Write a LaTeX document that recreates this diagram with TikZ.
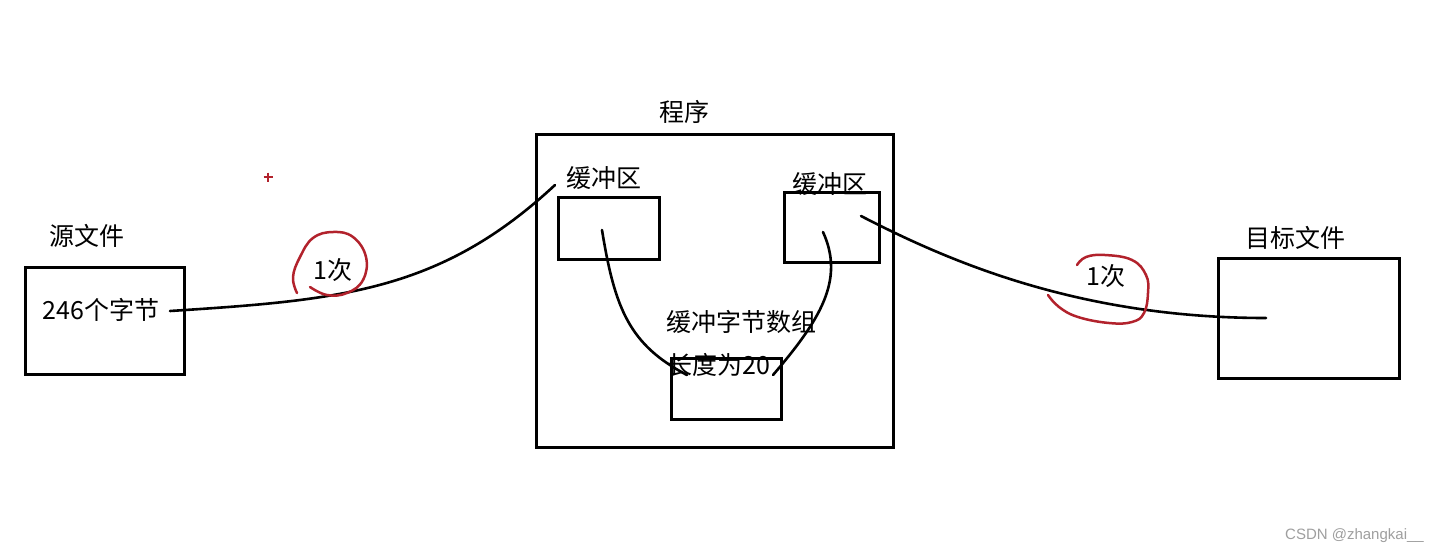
\documentclass[tikz,border=0pt]{standalone}
\usepackage{fontspec}
\setmainfont{Noto Sans CJK SC}
\newfontfamily\wmfont{Liberation Sans}
\definecolor{penred}{RGB}{178,34,44}
\begin{document}
\begin{tikzpicture}[x=1pt,y=-1pt,
  box/.style={draw, line width=2.8pt, inner sep=0pt, anchor=north west},
  lbl/.style={font=\fontsize{25}{29}\selectfont, inner sep=0pt},
  wire/.style={line width=2.6pt, line cap=round},
  loop/.style={draw=penred, line width=2.5pt, line cap=round}]
\useasboundingbox (0,0) rectangle (1440,555);
\fill[white] (0,0) rectangle (1440,555);

% boxes
\node[box, minimum width=159pt, minimum height=107pt] (src) at (24,266) {};
\node[box, minimum width=357pt, minimum height=313pt] (prog) at (535,133) {};
\node[box, minimum width=101pt, minimum height=62pt] (bufL) at (557,196) {};
\node[box, minimum width=95pt, minimum height=70pt] (bufR) at (783,191) {};
\node[box, minimum width=110pt, minimum height=61pt] (arr) at (670,357) {};
\node[box, minimum width=181pt, minimum height=120pt] (dst) at (1217,257) {};

% labels
\node[lbl] (srcL) at (87,236) {源文件};
\node[lbl] (srcT) at (101,310) {246个字节};
\node[lbl] (progL) at (684,112) {程序};
\node[lbl] (bufLL) at (604,178) {缓冲区};
\node[lbl] (bufRL) at (830,184) {缓冲区};
\node[lbl] (arrL1) at (741,322) {缓冲字节数组};
\node[lbl] (arrL2) at (719,365) {长度为20};
\node[lbl] (dstL) at (1295,238) {目标文件};
\node[lbl] (n1) at (333,270) {1次};
\node[lbl] (n2) at (1106,276) {1次};

% connectors
\coordinate (a0) at (170,311);
\coordinate (a1) at (555,185);
\draw[wire] (a0) .. controls (340,300) and (440,292) .. (a1);
\coordinate (b0) at (602,230);
\coordinate (b1) at (687,375);
\draw[wire] (b0) .. controls (615,310) and (630,345) .. (b1);
\coordinate (c0) at (823,232);
\coordinate (c1) at (773,375);
\draw[wire] (c0) .. controls (845,280) and (820,320) .. (c1);
\coordinate (d0) at (861,216);
\coordinate (d1) at (1266,318);
\draw[wire] (d0) .. controls (950,262) and (1080,318) .. (d1);

% red pen marks
\draw[loop] plot[smooth, tension=0.7] coordinates {(297,293) (293,277) (300,257) (313,238) (333,232) (353,237) (366,257) (363,280) (347,293) (327,295) (310,287)};
\draw[loop] plot[smooth, tension=0.7] coordinates {(1077,265) (1086,257) (1105,255) (1132,260) (1146,275) (1148,293) (1144,313) (1132,322) (1109,323) (1078,317) (1059,307) (1048,295)};
\draw[penred, line width=1.8pt] (263.5,177) -- (272.5,177) (268,172.5) -- (268,181.5);

% watermark
\node[text=gray!75, font=\wmfont\fontsize{15}{17}\selectfont, anchor=east, inner sep=0pt] (wmk) at (1424,536) {CSDN @zhangkai\_\_};
\end{tikzpicture}
\end{document}
